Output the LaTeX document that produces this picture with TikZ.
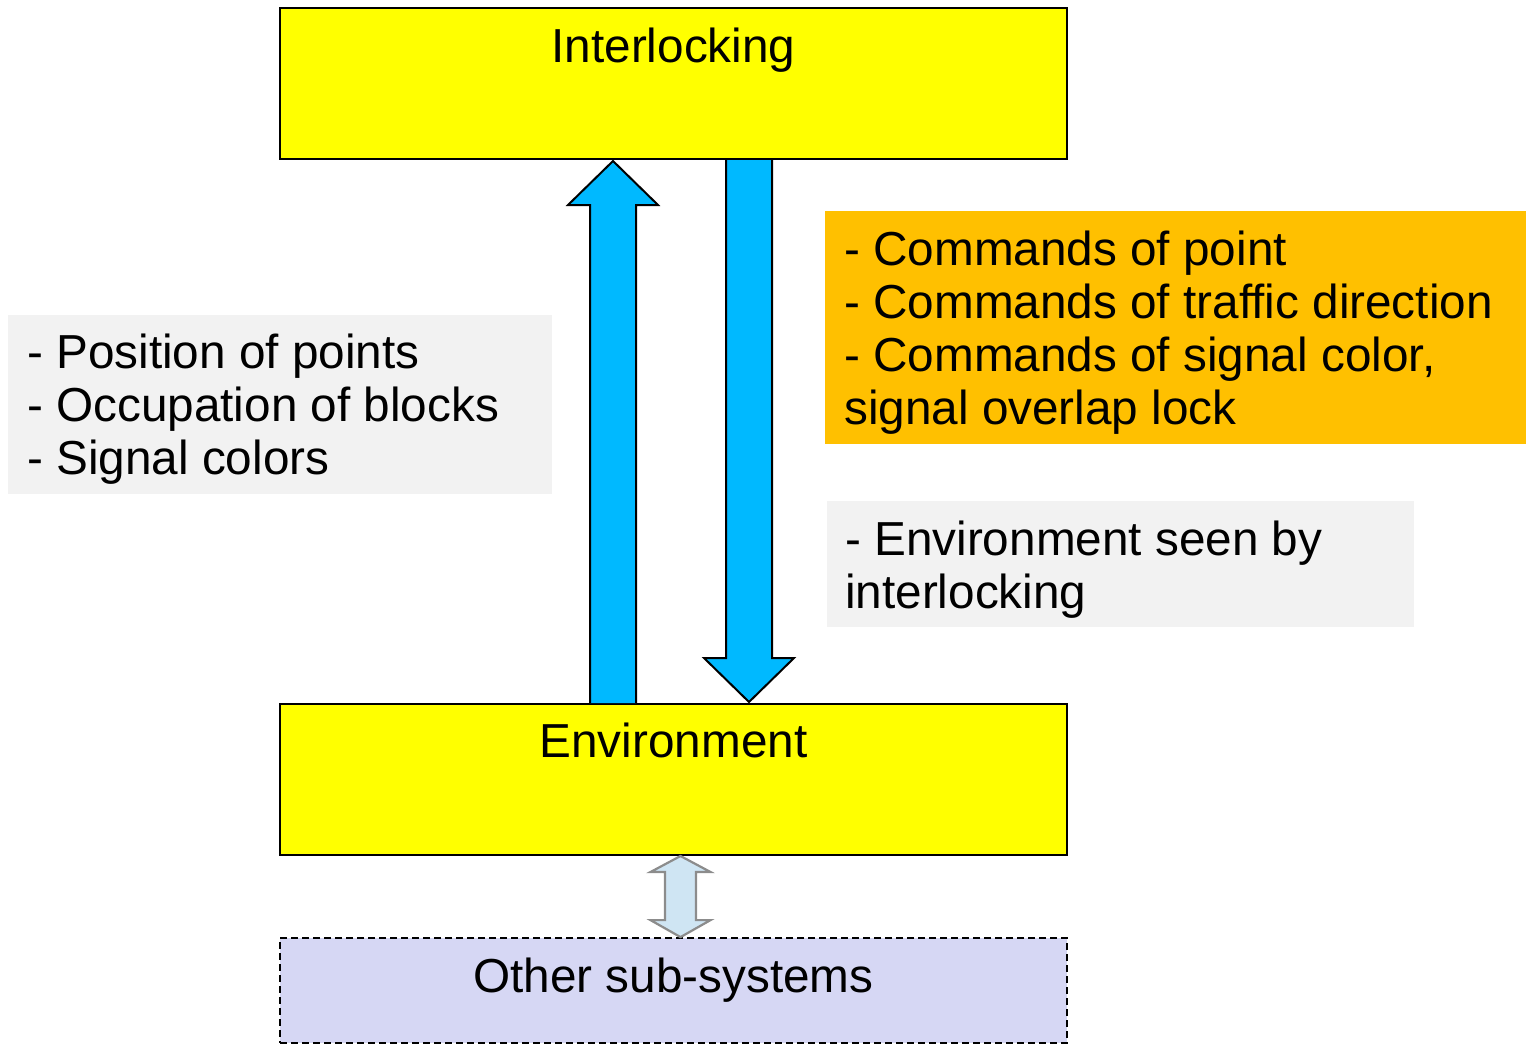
\documentclass[tikz,border=0pt]{standalone}
\usepackage{fontspec}
\setmainfont{Liberation Sans}
\usetikzlibrary{calc}

\definecolor{boxyellow}{HTML}{FFFF00}
\definecolor{flowblue}{HTML}{00B9FF}
\definecolor{cmdorange}{HTML}{FFC000}
\definecolor{notegray}{HTML}{F2F2F2}
\definecolor{subsys}{HTML}{D6D7F4}
\definecolor{linkblue}{HTML}{CFE5F3}
\definecolor{linkgray}{HTML}{8C8C8C}

\tikzset{
  sysbox/.style={draw=black, line width=2pt, fill=boxyellow, rectangle,
    minimum width=787pt, minimum height=151pt, inner sep=0pt},
  otherbox/.style={draw=black, line width=1.8pt, dash pattern=on 7pt off 4pt,
    fill=subsys, rectangle, minimum width=787pt, minimum height=105pt, inner sep=0pt},
  notebox/.style={fill=#1, rectangle, inner sep=0pt, draw=none},
  flowarrow/.style={draw=black, line width=2pt, fill=flowblue, line join=miter},
  linkarrow/.style={draw=linkgray, line width=2.2pt, fill=linkblue, line join=miter},
  title/.style={anchor=base, inner sep=0pt, font=\fontsize{47.7}{53}\selectfont},
  notetext/.style={anchor=base west, inner sep=0pt, font=\fontsize{47.7}{53.3}\selectfont},
}

\begin{document}
\begin{tikzpicture}[x=1pt, y=-1pt]
  \useasboundingbox (0,0) rectangle (1526,1044);

  % note boxes
  \node[notebox=notegray, minimum width=544pt, minimum height=179pt] (readbg) at (280,404.5) {};
  \node[notebox=cmdorange, minimum width=701pt, minimum height=233pt] (cmdbg) at (1175.5,327.5) {};
  \node[notebox=notegray, minimum width=587pt, minimum height=126pt] (seenbg) at (1120.5,564) {};

  \node[notetext] (readtxt) at (27,368) {\begin{tabular}[t]{@{}l@{}}
    - Position of points\\
    - Occupation of blocks\\
    - Signal colors\end{tabular}};
  \node[notetext] (cmdtxt) at (844,265) {\begin{tabular}[t]{@{}l@{}}
    - Commands of point\\
    - Commands of traffic direction\\
    - Commands of signal color,\\
    signal overlap lock\end{tabular}};
  \node[notetext] (seentxt) at (845,555) {\begin{tabular}[t]{@{}l@{}}
    - Environment seen by\\
    interlocking\end{tabular}};

  % system boxes
  \node[sysbox] (ilk) at (673.5,83.5) {};
  \node[sysbox] (env) at (673.5,779.5) {};
  \node[otherbox] (other) at (673.5,990.5) {};

  \node[title] (ilktxt) at ($(ilk.north)+(0,55)$) {Interlocking};
  \node[title] (envtxt) at ($(env.north)+(0,54)$) {Environment};
  \node[title] (othertxt) at ($(other.north)+(0,55)$) {Other sub-systems};

  % status flow: environment up to interlocking
  \draw[flowarrow]
    ($(env.north)+(-83.5,0)$) -- ($(ilk.south)+(-83.5,45)$)
    -- ($(ilk.south)+(-105.5,45)$) -- ($(ilk.south)+(-60.5,1)$)
    -- ($(ilk.south)+(-15.5,45)$) -- ($(ilk.south)+(-37.5,45)$)
    -- ($(env.north)+(-37.5,0)$);

  % command flow: interlocking down to environment
  \draw[flowarrow]
    ($(ilk.south)+(52.5,0)$) -- ($(env.north)+(52.5,-45)$)
    -- ($(env.north)+(30.5,-45)$) -- ($(env.north)+(75.5,-1)$)
    -- ($(env.north)+(120.5,-45)$) -- ($(env.north)+(98.5,-45)$)
    -- ($(ilk.south)+(98.5,0)$);

  % link between environment and other sub-systems
  \draw[linkarrow]
    ($(env.south)+(7,0)$) -- ($(env.south)+(37,16)$)
    -- ($(env.south)+(22.5,16)$) -- ($(other.north)+(22.5,-17)$)
    -- ($(other.north)+(37,-17)$) -- ($(other.north)+(7,0)$)
    -- ($(other.north)+(-23,-17)$) -- ($(other.north)+(-8.5,-17)$)
    -- ($(env.south)+(-8.5,16)$) -- ($(env.south)+(-23,16)$) -- cycle;
\end{tikzpicture}
\end{document}
